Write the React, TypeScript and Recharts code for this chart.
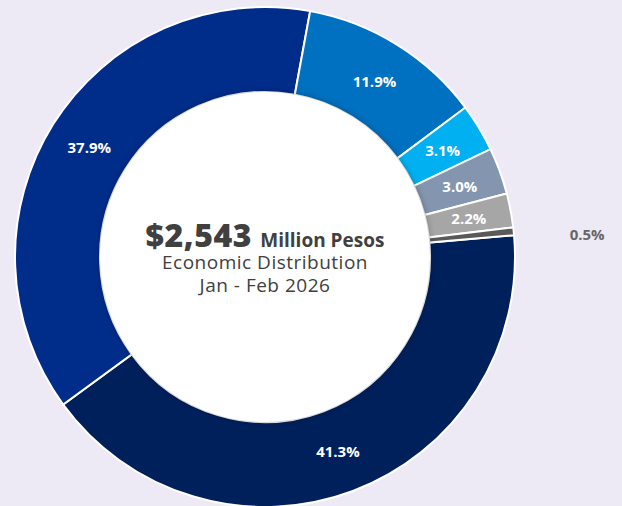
import React from 'react';
import { PieChart, Pie, Cell } from 'recharts';

// participación por segmento, en sentido horario desde la derecha
const segments = ['Segmento 1', 'Segmento 2', 'Segmento 3', 'Segmento 4', 'Segmento 5', 'Segmento 6', 'Segmento 7'];
const shares = [41.3, 37.9, 11.9, 3.1, 3.0, 2.2, 0.5];
const colors = ['#00205C', '#002D8A', '#0070C0', '#00B0F0', '#8495B0', '#A6A6A6', '#595959'];

const totalLabel = '$2,543';
const unitLabel = 'Million Pesos';
const subtitle = 'Economic Distribution';
const period = 'Jan - Feb 2026';

const data = segments.map((name, i) => ({ name, value: shares[i] }));
const hole = [{ name: 'centro', value: 1 }];

const RADIAN = Math.PI / 180;
const CX = 265;
const CY = 257;

const renderLabel = (props: any) => {
  const { cx, cy, midAngle, innerRadius, outerRadius, value } = props;
  const small = value < 1;
  const r = small ? outerRadius + 73 : (innerRadius + outerRadius) / 2;
  const ang = small ? midAngle - 1.8 : midAngle;
  const x = cx + r * Math.cos(-ang * RADIAN);
  const y = cy + r * Math.sin(-ang * RADIAN);
  return (
    <text
      x={x}
      y={y}
      fill={small ? '#666666' : '#FFFFFF'}
      textAnchor="middle"
      dominantBaseline="central"
      style={{ fontFamily: '"Open Sans", sans-serif', fontSize: 15, fontWeight: 700 }}
    >
      {`${value.toFixed(1)}%`}
    </text>
  );
};

const line = (top: number, extra: React.CSSProperties): React.CSSProperties => ({
  position: 'absolute',
  left: CX - 160,
  top,
  width: 320,
  textAlign: 'center',
  whiteSpace: 'nowrap',
  lineHeight: 1,
  ...extra,
});

export default function App() {
  return (
    <div
      style={{
        position: 'absolute',
        left: 0,
        top: 0,
        width: 622,
        height: 506,
        background: '#EDEAF5',
        overflow: 'hidden',
        color: '#404040',
        fontFamily: '"Open Sans", sans-serif',
      }}
    >
      <PieChart width={622} height={506} margin={{ top: 0, right: 0, bottom: 0, left: 0 }}>
        <Pie
          data={data}
          dataKey="value"
          nameKey="name"
          cx={CX}
          cy={CY}
          innerRadius={165}
          outerRadius={250}
          startAngle={5}
          endAngle={-355}
          stroke="#FFFFFF"
          strokeWidth={2}
          label={renderLabel}
          labelLine={false}
          isAnimationActive={false}
        >
          {data.map((d, i) => (
            <Cell key={d.name} fill={colors[i]} />
          ))}
        </Pie>
        <Pie
          data={hole}
          dataKey="value"
          cx={CX}
          cy={CY}
          innerRadius={0}
          outerRadius={165}
          stroke="none"
          fill="#FFFFFF"
          isAnimationActive={false}
          style={{ filter: 'drop-shadow(0px 0px 3px rgba(0,0,0,0.35))' }}
        />
      </PieChart>

      <div style={line(219, { fontSize: 32, height: 32 })}>
        <span style={{ display: 'inline-block', lineHeight: 1, fontWeight: 800, letterSpacing: 0.5 }}>
          {totalLabel}
        </span>{' '}
        <span style={{ display: 'inline-block', lineHeight: 1, fontSize: 19, fontWeight: 700 }}>{unitLabel}</span>
      </div>
      <div style={line(253, { fontSize: 19, fontWeight: 500, letterSpacing: 0.5 })}>{subtitle}</div>
      <div style={line(276, { fontSize: 19, fontWeight: 500, letterSpacing: 0.5 })}>{period}</div>
    </div>
  );
}
